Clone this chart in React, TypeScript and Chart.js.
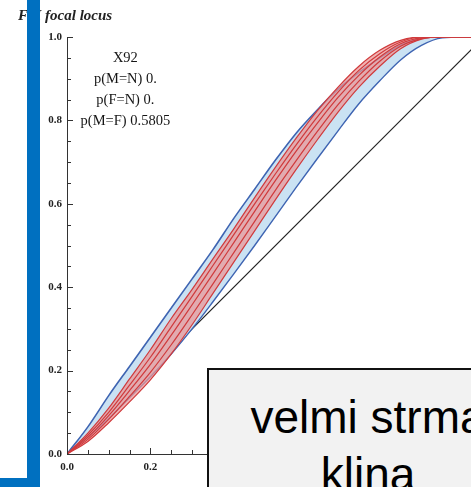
import React, { useEffect, useRef } from "react";
import { Chart, registerables } from "chart.js";

Chart.register(...registerables);

// ---- data ----
const X_GRID = [0, 0.05, 0.1, 0.15, 0.2, 0.25, 0.3, 0.35, 0.4, 0.45, 0.5, 0.55, 0.6, 0.65, 0.7, 0.75, 0.8, 0.85, 0.9, 0.95, 1];
const BLUE_UPPER = [0, 0.065, 0.14, 0.21, 0.28, 0.35, 0.42, 0.49, 0.565, 0.635, 0.705, 0.77, 0.825, 0.875, 0.915, 0.95, 0.98, 0.997, 1, 1, 1];
const BLUE_LOWER = [0, 0.04, 0.085, 0.135, 0.185, 0.24, 0.3, 0.365, 0.432, 0.5, 0.57, 0.64, 0.708, 0.775, 0.84, 0.895, 0.945, 0.98, 0.998, 1, 1];
const RED_1 = [0, 0.05, 0.11, 0.18, 0.25, 0.325, 0.395, 0.468, 0.54, 0.615, 0.688, 0.758, 0.823, 0.88, 0.93, 0.968, 0.992, 1, 1, 1, 1];
const RED_2 = [0, 0.045, 0.1, 0.165, 0.232, 0.305, 0.378, 0.452, 0.526, 0.6, 0.672, 0.742, 0.808, 0.868, 0.92, 0.96, 0.988, 1, 1, 1, 1];
const RED_3 = [0, 0.04, 0.092, 0.152, 0.215, 0.285, 0.358, 0.432, 0.507, 0.582, 0.656, 0.727, 0.793, 0.855, 0.908, 0.952, 0.984, 0.998, 1, 1, 1];
const RED_4 = [0, 0.035, 0.083, 0.138, 0.196, 0.262, 0.334, 0.408, 0.483, 0.558, 0.633, 0.704, 0.773, 0.838, 0.894, 0.942, 0.978, 0.996, 1, 1, 1];
const RED_5 = [0, 0.03, 0.075, 0.125, 0.178, 0.24, 0.31, 0.385, 0.46, 0.535, 0.61, 0.683, 0.753, 0.82, 0.88, 0.93, 0.972, 0.995, 1, 1, 1];
const DIAG_X = [0, 1];
const DIAG_Y = [0, 1];
const AXIS_MIN = 0;
const AXIS_MAX = 1;
const TICK_STEP = 0.2;
const MINOR_STEP = 0.05;
const NOTE_LINES = ["X92", "p(M=N) 0.", "p(F=N) 0.", "p(M=F) 0.5805"];
const NOTE_POS = { x: 0.14, y: 0.948 };
const TITLE = "FM focal locus";
const CALLOUT = ["velmi strma", "klina"];

const pts = (xs: number[], ys: number[]) => xs.map((x, i) => ({ x, y: ys[i] }));

const RED = "rgb(208,58,60)";
const BLUE = "rgb(62,100,178)";

const decor = {
  id: "decor",
  afterDraw(chart: any) {
    const { ctx, chartArea, scales } = chart;
    const xs = scales.x;
    const ys = scales.y;
    ctx.save();
    ctx.strokeStyle = "#333";
    ctx.lineWidth = 1;
    ctx.beginPath();
    const n = Math.round((AXIS_MAX - AXIS_MIN) / MINOR_STEP);
    for (let i = 0; i <= n; i++) {
      const v = AXIS_MIN + i * MINOR_STEP;
      const major = i % Math.round(TICK_STEP / MINOR_STEP) === 0;
      const len = major ? 6 : 4;
      const py = Math.round(ys.getPixelForValue(v)) + 0.5;
      ctx.moveTo(chartArea.left, py);
      ctx.lineTo(chartArea.left + len, py);
      const px = Math.round(xs.getPixelForValue(v)) + 0.5;
      ctx.moveTo(px, chartArea.bottom);
      ctx.lineTo(px, chartArea.bottom - len);
    }
    ctx.stroke();
    ctx.fillStyle = "#151515";
    ctx.font = '14.5px "Liberation Serif", serif';
    ctx.textAlign = "center";
    ctx.textBaseline = "middle";
    const cx = xs.getPixelForValue(NOTE_POS.x);
    const cy = ys.getPixelForValue(NOTE_POS.y);
    NOTE_LINES.forEach((t, i) => ctx.fillText(t, cx, cy + i * 21));
    ctx.restore();
  },
};

export default function App() {
  const ref = useRef<HTMLCanvasElement>(null);
  useEffect(() => {
    if (!ref.current) return;
    const redLine = (data: number[], extra: any = {}) => ({
      data: pts(X_GRID, data),
      borderColor: RED,
      borderWidth: 1.2,
      pointRadius: 0,
      fill: false,
      cubicInterpolationMode: "monotone",
      ...extra,
    });
    const chart = new Chart(ref.current, {
      type: "line",
      data: {
        datasets: [
          redLine(RED_1),
          redLine(RED_2),
          redLine(RED_3),
          redLine(RED_4),
          redLine(RED_5, { fill: { target: 0, above: "rgba(236,150,150,0.72)", below: "rgba(236,150,150,0.72)" } }),
          {
            data: pts(X_GRID, BLUE_UPPER),
            borderColor: BLUE,
            borderWidth: 1.6,
            pointRadius: 0,
            fill: false,
            cubicInterpolationMode: "monotone",
          },
          {
            data: pts(X_GRID, BLUE_LOWER),
            borderColor: BLUE,
            borderWidth: 1.4,
            pointRadius: 0,
            fill: { target: 5, above: "rgb(202,226,243)", below: "rgb(202,226,243)" },
            cubicInterpolationMode: "monotone",
          },
          {
            data: pts(DIAG_X, DIAG_Y),
            borderColor: "#222",
            borderWidth: 1.2,
            pointRadius: 0,
            fill: false,
          },
        ] as any,
      },
      options: {
        animation: false,
        responsive: false,
        devicePixelRatio: 1,
        layout: { padding: { left: 0, top: 37, right: 16, bottom: 0 } },
        plugins: { legend: { display: false }, tooltip: { enabled: false }, title: { display: false } },
        scales: {
          x: {
            type: "linear",
            min: AXIS_MIN,
            max: AXIS_MAX,
            grid: { display: false, drawTicks: false },
            border: { display: true, color: "#333", width: 1 },
            ticks: {
              stepSize: TICK_STEP,
              padding: 7,
              color: "#222",
              font: { family: '"Liberation Serif", serif', size: 11, weight: "bold" },
              callback: (v: any) => Number(v).toFixed(1),
              maxRotation: 0,
            },
            afterFit: (s: any) => {
              s.height = 33;
            },
          },
          y: {
            type: "linear",
            min: AXIS_MIN,
            max: AXIS_MAX,
            grid: { display: false, drawTicks: false },
            border: { display: true, color: "#333", width: 1 },
            ticks: {
              stepSize: TICK_STEP,
              padding: 5,
              color: "#222",
              font: { family: '"Liberation Serif", serif', size: 11, weight: "bold" },
              callback: (v: any) => Number(v).toFixed(1),
            },
            afterFit: (s: any) => {
              s.width = 67;
            },
          },
        },
      },
      plugins: [decor],
    });
    return () => chart.destroy();
  }, []);

  return (
    <div style={{ position: "fixed", left: 0, top: 0, width: 471, height: 487, overflow: "hidden", background: "#fff" }}>
      <canvas ref={ref} width={500} height={487} style={{ position: "absolute", left: 0, top: 0, width: 500, height: 487 }} />
      <div
        style={{
          position: "absolute",
          left: 18,
          top: 7,
          font: 'italic bold 15px "Liberation Serif", serif',
          color: "#222",
          whiteSpace: "nowrap",
        }}
      >
        {TITLE}
      </div>
      <div style={{ position: "absolute", left: 27, top: 0, width: 13, height: 487, background: "#0070C0" }} />
      <div style={{ position: "absolute", left: 0, top: 478, width: 40, height: 9, background: "#0070C0" }} />
      <div
        style={{
          position: "absolute",
          left: 207,
          top: 368,
          width: 322,
          height: 180,
          boxSizing: "border-box",
          border: "2px solid #111",
          background: "#f2f2f2",
          textAlign: "center",
          font: '46px "Liberation Sans", Arial, sans-serif',
          lineHeight: "57px",
          paddingTop: 19,
          color: "#000",
          whiteSpace: "nowrap",
        }}
      >
        {CALLOUT.map((l, i) => (
          <div key={i}>{l}</div>
        ))}
      </div>
    </div>
  );
}
